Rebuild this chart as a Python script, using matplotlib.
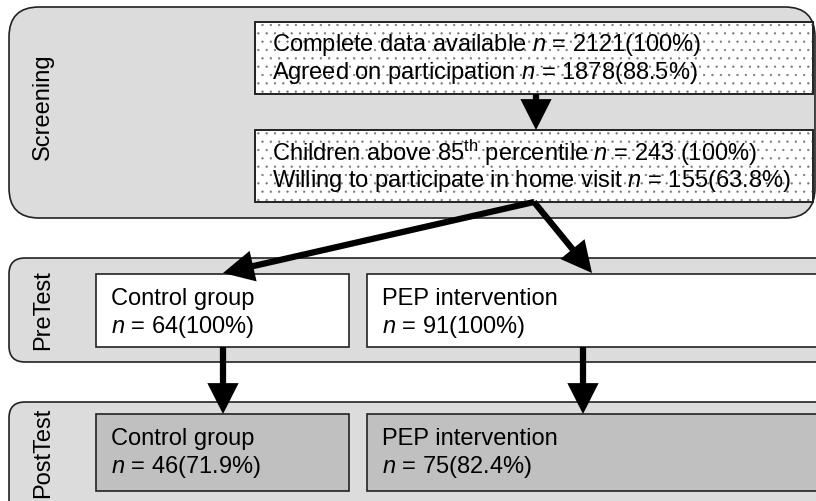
import matplotlib
matplotlib.use("Agg")
import matplotlib.pyplot as plt
from matplotlib.patches import FancyBboxPatch, Rectangle

plt.rcParams['font.family'] = ['Liberation Sans', 'DejaVu Sans']
plt.rcParams['mathtext.fontset'] = 'custom'
plt.rcParams['mathtext.rm'] = 'Liberation Sans'
plt.rcParams['mathtext.it'] = 'Liberation Sans:italic'
plt.rcParams['hatch.linewidth'] = 0.4

# data
stages = ["Screening", "PreTest", "PostTest"]
screen_labels = ["Complete data available", "Agreed on participation",
                 r"Children above 85$^{\mathrm{th}}$ percentile", "Willing to participate in home visit"]
screen_n = [2121, 1878, 243, 155]
screen_pct = ["(100%)", "(88.5%)", " (100%)", "(63.8%)"]
groups = ["Control group", "PEP intervention"]
pre_n = [64, 91]
pre_pct = ["100%", "100%"]
post_n = [46, 75]
post_pct = ["71.9%", "82.4%"]

fig = plt.figure(figsize=(8.16, 5.01), dpi=100)
ax = fig.add_axes([0, 0, 1, 1])
ax.set_xlim(0, 816)
ax.set_ylim(501, 0)
ax.axis("off")

FS = 17
panel_col = "#dcdcdc"

#   stage panels
panels = [(9, 7, 806, 211, 30), (9, 258, 830, 104, 16), (9, 402, 830, 120, 16)]
label_y = [107, 310, 453]
for (x, y, w, h, r), name, ly in zip(panels, stages, label_y):
    ax.add_patch(FancyBboxPatch((x, y), w, h, boxstyle="round,pad=0,rounding_size=%d" % r,
                                fc=panel_col, ec="#222222", lw=1.2))
    ax.text(43, ly, name, rotation=90, ha="center", va="center", fontsize=FS)

#   dotted screening boxes
for k, y0 in enumerate([22, 130]):
    ax.add_patch(Rectangle((255, y0), 558, 72, fc="white", ec="#222222", lw=1.2))
    ax.add_patch(Rectangle((255, y0), 558, 72, fc="none", ec="#777777", lw=0, hatch=".."))
    ax.add_patch(Rectangle((255, y0), 558, 72, fc="none", ec="#222222", lw=1.2))
    for j in range(2):
        i = 2 * k + j
        s = screen_labels[i] + r" $\it{n}$ = " + str(screen_n[i]) + screen_pct[i]
        ax.text(272, y0 + 23 + 28 * j, s, ha="left", va="center", fontsize=FS)

#   group boxes
box_x = [96, 367]
box_w = [253, 470]
for i in range(2):
    ax.add_patch(Rectangle((box_x[i], 274), box_w[i], 73, fc="white", ec="#222222", lw=1.2))
    ax.text(box_x[i] + 15, 299, groups[i], ha="left", va="center", fontsize=FS)
    ax.text(box_x[i] + 15, 327, r"$\it{n}$ = %d(%s)" % (pre_n[i], pre_pct[i]),
            ha="left", va="center", fontsize=FS)
    ax.add_patch(Rectangle((box_x[i], 414), box_w[i], 77, fc="#c0c0c0", ec="#222222", lw=1.2))
    ax.text(box_x[i] + 15, 439, groups[i], ha="left", va="center", fontsize=FS)
    ax.text(box_x[i] + 15, 467, r"$\it{n}$ = %d(%s)" % (post_n[i], post_pct[i]),
            ha="left", va="center", fontsize=FS)

#   arrows
arrows = [((536, 94), (536, 130)), ((534, 202), (223, 273)), ((534, 202), (592, 273)),
          ((223, 347), (223, 414)), ((583, 347), (583, 414))]
for a, b in arrows:
    ax.annotate("", xy=b, xytext=a,
                arrowprops=dict(arrowstyle="-|>,head_length=0.75,head_width=0.38",
                                mutation_scale=20, lw=4.5, color="black",
                                shrinkA=0, shrinkB=0, joinstyle="miter", capstyle="butt"))

fig.savefig("out.png", dpi=100)
